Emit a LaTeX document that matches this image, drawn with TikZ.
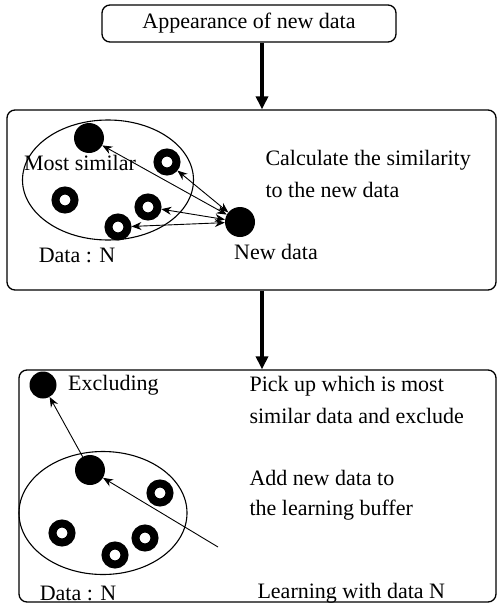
\documentclass[tikz,border=0pt]{standalone}
\usepackage{fontspec}
\setmainfont{Liberation Serif}
\usetikzlibrary{shapes.geometric, arrows.meta, positioning}

\begin{document}
\begin{tikzpicture}[x=1pt, y=-1pt, >={Stealth[length=10pt, width=8pt]},
	every node/.style={font=\fontsize{22}{32}\selectfont},
	stagebox/.style={draw, rounded corners=8pt, line width=1.3pt},
	pool/.style={draw, ellipse, line width=1.1pt},
	filled/.style={circle, fill=black, inner sep=0pt, minimum size=30pt},
	ring/.style={circle, draw, line width=8pt, inner sep=0pt, minimum size=19pt, outer sep=4pt},
	link/.style={line width=0.9pt},
	flow/.style={-{Triangle[length=13pt, width=12pt]}, line width=4.5pt}]
	\useasboundingbox (0,0) rectangle (498,613);

	% stages
	\node (appear) [stagebox, minimum width=294pt, minimum height=37pt] at (249,23.5) {Appearance of new data};
	\node (calc) [stagebox, minimum width=489pt, minimum height=180pt] at (251.5,200) {};
	\node (learn) [stagebox, minimum width=477pt, minimum height=232pt] at (257.5,486) {};

	\draw[flow] ([xshift=13pt]appear.south) -- ([xshift=13pt]appear.south |- calc.north);
	\draw[flow] ([xshift=10.5pt]calc.south) -- ([xshift=10.5pt]calc.south |- learn.north);

	% similarity stage
	\node (poolA) [pool, minimum width=171pt, minimum height=120pt] at (108,180) {};
	\node (similar) [filled] at (89,138) {};
	\node (ringA) [ring] at (167,162) {};
	\node (ringB) [ring] at (65,200) {};
	\node (ringC) [ring] at (148,207) {};
	\node (ringD) [ring] at (118,227) {};
	\node (newdata) [filled] at (240,222) {};
	\node (simlabel) at (80,163) {Most similar};
	\node (dataA) at (77,255) {Data : N};
	\node (newlabel) at (276,252) {New data};
	\node (calctext) [align=left, anchor=west] at (262,174) {Calculate the similarity\\to the new data};

	\draw[link, <->] (similar) -- (newdata);
	\draw[link, <->] (ringA) -- (newdata);
	\draw[link, <->] (ringC) -- (newdata);
	\draw[link, <->] (ringD) -- (newdata);

	% learning stage
	\node (excl) [filled, minimum size=27pt] at (43,385) {};
	\node (excllabel) [right=8pt of excl] {Excluding};
	\node (poolB) [pool, minimum width=168pt, minimum height=123pt] at (103,513) {};
	\node (chosen) [filled] at (90,470) {};
	\node (ringE) [ring] at (160,493) {};
	\node (ringF) [ring] at (62,533) {};
	\node (ringG) [ring] at (145,538) {};
	\node (ringH) [ring] at (115,555) {};
	\coordinate (entry) at (218,547);
	\node (dataB) at (78,593) {Data : N};
	\node (picktext) [align=left, anchor=west] at (246,400) {Pick up which is most\\similar data and exclude};
	\node (addtext) [align=left, anchor=west, font=\fontsize{22}{30}\selectfont] at (246,495) {Add new data to\\the learning buffer};
	\node (learntext) [anchor=west] at (254,593) {Learning with data N};

	\draw[link, ->] (chosen) -- (excl);
	\draw[link, ->] (entry) -- (chosen);
\end{tikzpicture}
\end{document}
